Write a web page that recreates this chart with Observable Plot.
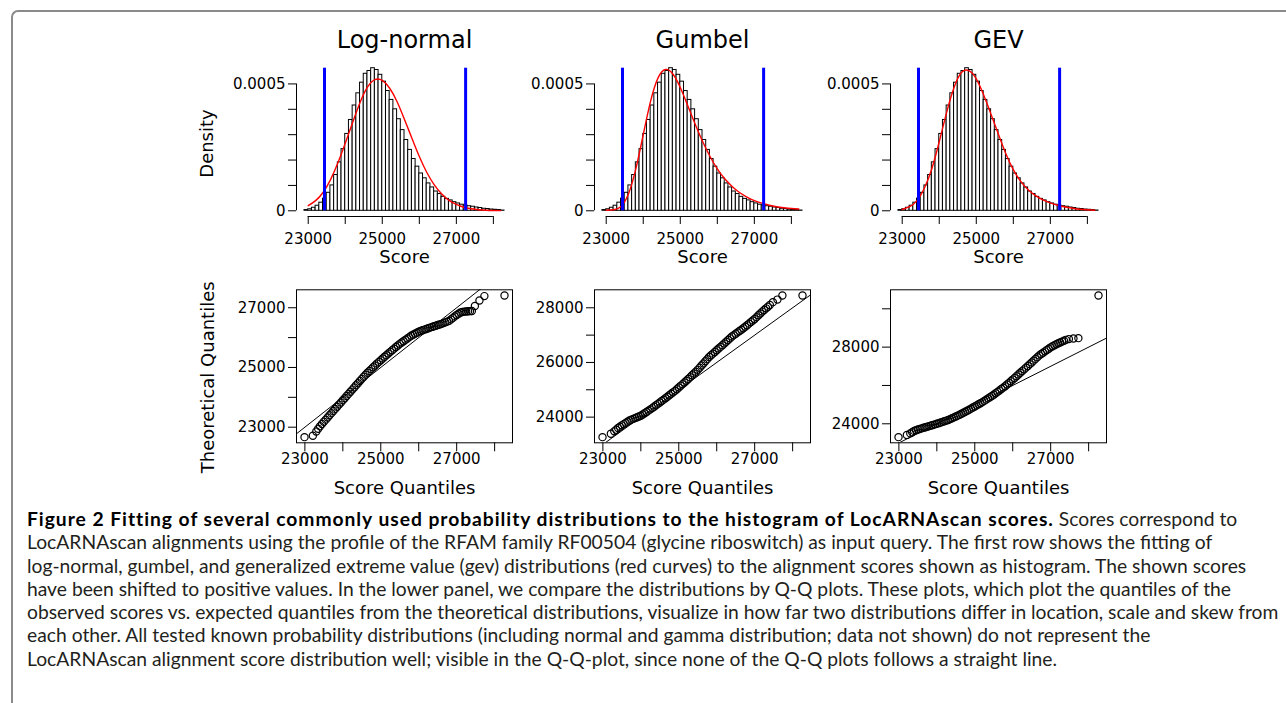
<!DOCTYPE html>
<html>
<head>
<meta charset="utf-8">
<script src="https://cdn.jsdelivr.net/npm/d3@7"></script>
<script src="https://cdn.jsdelivr.net/npm/@observablehq/plot@0.6"></script>
<style>
  body { margin: 0; background: #fff; }
  #wrap { position: relative; width: 1286px; height: 703px; overflow: hidden; background: #fff; }
  .panel { position: absolute; }
  #border { position: absolute; left: 11px; top: 10px; width: 1400px; height: 800px;
            border-left: 2px solid #8a8a8a; border-top: 2px solid #8a8a8a; border-top-left-radius: 7px; }
  #caption { position: absolute; left: 27px; top: 507px; font-family: Lato, "Open Sans", sans-serif;
             color: #231f20; line-height: 23.3px; white-space: nowrap; font-size: 17px; }
  #caption b { color: #000; }
</style>
</head>
<body>
<div id="wrap"><div id="border"></div><div id="caption"></div></div>
<script>
// ---------- data ----------
const panelTitles = ["Log-normal", "Gumbel", "GEV"];

// histogram of scores (bin start, width 100) and density
const binStart = [22900, 23000, 23100, 23200, 23300, 23400, 23500, 23600, 23700, 23800,
  23900, 24000, 24100, 24200, 24300, 24400, 24500, 24600, 24700, 24800,
  24900, 25000, 25100, 25200, 25300, 25400, 25500, 25600, 25700, 25800,
  25900, 26000, 26100, 26200, 26300, 26400, 26500, 26600, 26700, 26800,
  26900, 27000, 27100, 27200, 27300, 27400, 27500, 27600, 27700, 27800,
  27900, 28000, 28100, 28200];
const binWidth = 100;
const histDensity = [0.000003, 0.000006, 0.000012, 0.000020, 0.000032, 0.000048, 0.000071, 0.000100, 0.000141, 0.000191,
  0.000243, 0.000303, 0.000358, 0.000415, 0.000463, 0.000505, 0.000540, 0.000551, 0.000562, 0.000555,
  0.000536, 0.000509, 0.000472, 0.000437, 0.000400, 0.000361, 0.000318, 0.000279, 0.000240, 0.000204,
  0.000174, 0.000147, 0.000128, 0.000108, 0.000092, 0.000076, 0.000066, 0.000055, 0.000047, 0.000041,
  0.000034, 0.000029, 0.000024, 0.000021, 0.000018, 0.000016, 0.000013, 0.000011, 0.000008, 0.000007,
  0.000005, 0.000004, 0.000003, 0.000001];

// blue vertical markers
const blueLines = [23440, 27250];

// fitted density curves (red)
const curveScore = [23000, 23200, 23400, 23600, 23800, 24000, 24200, 24400, 24600, 24800,
  25000, 25200, 25400, 25600, 25800, 26000, 26200, 26400, 26600, 26800,
  27000, 27200, 27400, 27600, 27800, 28000, 28200];
const logNormalDensity = [0.000020, 0.000040, 0.000072, 0.000122, 0.000188, 0.000266, 0.000348, 0.000427, 0.000487, 0.000517,
  0.000514, 0.000483, 0.000430, 0.000360, 0.000286, 0.000214, 0.000152, 0.000103, 0.000067, 0.000041,
  0.000025, 0.000014, 0.000008, 0.000004, 0.000002, 0.000001, 0.0000005];
const gumbelDensity = [0.000002, 0.000004, 0.000017, 0.000066, 0.000165, 0.000300, 0.000433, 0.000524, 0.000557, 0.000539,
  0.000486, 0.000415, 0.000342, 0.000274, 0.000215, 0.000165, 0.000126, 0.000096, 0.000072, 0.000054,
  0.000040, 0.000030, 0.000022, 0.000016, 0.000012, 0.000009, 0.000007];
const gevDensity = [0.000005, 0.000016, 0.000040, 0.000090, 0.000166, 0.000272, 0.000388, 0.000486, 0.000545, 0.000552,
  0.000520, 0.000456, 0.000380, 0.000301, 0.000225, 0.000162, 0.000116, 0.000083, 0.000060, 0.000043,
  0.000031, 0.000022, 0.000015, 0.000010, 0.000006, 0.000004, 0.000002];

// histogram axes
const histTicks = [23000, 24000, 25000, 26000, 27000, 28000];
const histTickLabels = [23000, 25000, 27000];
const densityTicks = [0, 0.0001, 0.0002, 0.0003, 0.0004, 0.0005];
const densityTickLabels = [0, 0.0005];

// Q-Q plots: observed score quantiles vs theoretical quantiles
const qqScore = [22990, 23210, 23300, 23350,
  23400, 23450, 23500, 23550, 23600, 23650, 23700, 23750, 23800, 23850,
  23900, 23950, 24000, 24050, 24100, 24150, 24200, 24250, 24300, 24350,
  24400, 24450, 24500, 24550, 24600, 24650, 24700, 24750, 24800, 24850,
  24900, 24950, 25000, 25050, 25100, 25150, 25200, 25250, 25300, 25350,
  25400, 25450, 25500, 25550, 25600, 25650, 25700, 25750, 25800, 25850,
  25900, 25950, 26000, 26050, 26100, 26150, 26200, 26250, 26300, 26350,
  26400, 26450, 26500, 26550, 26600, 26650, 26700, 26750, 26800, 26850,
  26900, 26950, 27000, 27050, 27100, 27150, 27200, 27250, 27300, 27350, 27400,
  27480, 27600, 27730, 28260];
const qqLogNormal = [22667, 22711, 22856, 22950,
  23030, 23105, 23180, 23253, 23325, 23398, 23470, 23542, 23613, 23685,
  23757, 23828, 23900, 23972, 24043, 24115, 24187, 24258, 24330, 24402,
  24473, 24545, 24617, 24688, 24760, 24822, 24883, 24945, 25007, 25068,
  25130, 25187, 25243, 25300, 25357, 25413, 25470, 25523, 25577, 25630,
  25683, 25737, 25790, 25835, 25880, 25925, 25970, 26015, 26060, 26095,
  26130, 26165, 26200, 26223, 26245, 26268, 26290, 26313, 26335, 26358,
  26380, 26400, 26420, 26440, 26460, 26485, 26510, 26535, 26560, 26610,
  26660, 26710, 26760, 26800, 26840, 26855, 26870, 26875, 26880, 26885, 26890,
  27056, 27244, 27389, 27411];
const qqGumbel = [23268, 23390, 23480, 23540,
  23600, 23650, 23700, 23745, 23790, 23835, 23880, 23908, 23937, 23965,
  23993, 24022, 24050, 24097, 24143, 24190, 24237, 24283, 24330, 24382,
  24433, 24485, 24537, 24588, 24640, 24693, 24747, 24800, 24853, 24907,
  24960, 25022, 25083, 25145, 25207, 25268, 25330, 25397, 25463, 25530,
  25597, 25663, 25730, 25808, 25887, 25965, 26043, 26122, 26200, 26262,
  26323, 26385, 26447, 26508, 26570, 26633, 26697, 26760, 26823, 26887,
  26950, 27000, 27050, 27100, 27150, 27200, 27250, 27307, 27363, 27420,
  27477, 27533, 27590, 27658, 27725, 27793, 27860, 27920, 27980, 28040, 28100,
  28207, 28300, 28451, 28451];
const qqGEV = [23304, 23420, 23500, 23560,
  23630, 23665, 23700, 23730, 23760, 23790, 23820, 23850, 23880, 23910,
  23940, 23970, 24000, 24033, 24067, 24100, 24133, 24167, 24200, 24245,
  24290, 24335, 24380, 24425, 24470, 24523, 24577, 24630, 24683, 24737,
  24790, 24847, 24903, 24960, 25017, 25073, 25130, 25195, 25260, 25325,
  25390, 25455, 25520, 25593, 25667, 25740, 25813, 25887, 25960, 26047,
  26133, 26220, 26307, 26393, 26480, 26570, 26660, 26750, 26840, 26930,
  27020, 27112, 27203, 27295, 27387, 27478, 27570, 27640, 27710, 27780,
  27850, 27920, 27990, 28043, 28095, 28148, 28200, 28245, 28290, 28335, 28380,
  28420, 28450, 28470, 30696];

const qqXTicks = [23000, 24000, 25000, 26000, 27000, 28000];
const qqXTickLabels = [23000, 25000, 27000];
const qqYTicks = [
  [23000, 24000, 25000, 26000, 27000],
  [24000, 25000, 26000, 27000, 28000],
  [24000, 26000, 28000, 30000]
];
const qqYTickLabels = [
  [23000, 25000, 27000],
  [24000, 26000, 28000],
  [24000, 28000]
];

const captionBold = "Figure 2 Fitting of several commonly used probability distributions to the histogram of LocARNAscan scores.";
const captionLines = [
  " Scores correspond to",
  "LocARNAscan alignments using the profile of the RFAM family RF00504 (glycine riboswitch) as input query. The first row shows the fitting of",
  "log-normal, gumbel, and generalized extreme value (gev) distributions (red curves) to the alignment scores shown as histogram. The shown scores",
  "have been shifted to positive values. In the lower panel, we compare the distributions by Q-Q plots. These plots, which plot the quantiles of the",
  "observed scores vs. expected quantiles from the theoretical distributions, visualize in how far two distributions differ in location, scale and skew from",
  "each other. All tested known probability distributions (including normal and gamma distribution; data not shown) do not represent the",
  "LocARNAscan alignment score distribution well; visible in the Q-Q-plot, since none of the Q-Q plots follows a straight line."
];

// ---------- drawing ----------
const fitDensities = [logNormalDensity, gumbelDensity, gevDensity];
const fitQuantiles = [qqLogNormal, qqGumbel, qqGEV];
const panelLeft = [190, 488, 784];

function rPad([a, b]) { const d = (b - a) * 0.04; return [a - d, b + d]; }
const fmt = (labels) => (d) => labels.includes(d) ? String(d) : "";
const style = { fontFamily: "'DejaVu Sans', sans-serif", fontSize: "15px", color: "black", background: "transparent", overflow: "visible" };

const hist = binStart.map((s, i) => ({ x1: s, x2: s + binWidth, y: histDensity[i] }));
const histX = rPad([binStart[0], binStart[binStart.length - 1] + binWidth]);
const histY = rPad([0, d3.max(histDensity)]);

function histPanel(i) {
  const curve = curveScore.map((s, j) => ({ x: s, y: fitDensities[i][j] }));
  return Plot.plot({
    width: 330, height: 250,
    marginLeft: 106, marginRight: 8, marginTop: 42, marginBottom: 54,
    style,
    x: { domain: histX },
    y: { domain: histY },
    marks: [
      Plot.rect(hist, { x1: "x1", x2: "x2", y1: 0, y2: "y", fill: "white", stroke: "black", strokeWidth: 1 }),
      Plot.line(curve, { x: "x", y: "y", stroke: "red", strokeWidth: 1.4, curve: "natural" }),
      Plot.ruleX(blueLines, { y1: 0, y2: d3.max(histDensity), stroke: "blue", strokeWidth: 3 }),
      Plot.ruleY([histY[0]], { x1: histTicks[0], x2: histTicks[histTicks.length - 1], stroke: "black" }),
      Plot.ruleX([histX[0]], { y1: densityTicks[0], y2: densityTicks[densityTicks.length - 1], stroke: "black" }),
      Plot.axisX({ ticks: histTicks, tickFormat: fmt(histTickLabels), tickSize: 8, tickPadding: 9, fontSize: 15, label: null }),
      Plot.axisY({ ticks: densityTicks, tickFormat: fmt(densityTickLabels), tickSize: 8, tickPadding: 3, fontSize: 15, label: null }),
      Plot.text([panelTitles[i]], { text: d => d, frameAnchor: "top", lineAnchor: "middle", textAnchor: "middle", dy: -22, fontSize: 24 }),
      Plot.text(["Score"], { text: d => d, frameAnchor: "bottom", lineAnchor: "middle", textAnchor: "middle", dy: 41, fontSize: 18 }),
      i === 0 ? Plot.text(["Density"], { text: d => d, frameAnchor: "left", lineAnchor: "middle", textAnchor: "middle", dx: -89, dy: 4, rotate: -90, fontSize: 18 }) : null
    ]
  });
}

function qqPanel(i) {
  const ys = fitQuantiles[i];
  const pts = qqScore.map((s, j) => ({ x: s, y: ys[j] }));
  const xd = rPad(d3.extent(qqScore));
  const yd = rPad(d3.extent(ys));
  return Plot.plot({
    width: 330, height: 230,
    marginLeft: 106, marginRight: 8, marginTop: 19.3, marginBottom: 57.7,
    style,
    x: { domain: xd },
    y: { domain: yd },
    marks: [
      Plot.line(xd.map(v => ({ x: v, y: v })), { x: "x", y: "y", stroke: "black", strokeWidth: 1, clip: true }),
      Plot.dot(pts, { x: "x", y: "y", r: 3.6, stroke: "black", strokeWidth: 1.2, fill: "none" }),
      Plot.frame({ stroke: "black", strokeWidth: 1 }),
      Plot.axisX({ ticks: qqXTicks, tickFormat: fmt(qqXTickLabels), tickSize: 9, tickPadding: 2, fontSize: 15, label: null }),
      Plot.axisY({ ticks: qqYTicks[i], tickFormat: fmt(qqYTickLabels[i]), tickSize: 8, tickPadding: 3, fontSize: 15, label: null }),
      Plot.text(["Score Quantiles"], { text: d => d, frameAnchor: "bottom", lineAnchor: "middle", textAnchor: "middle", dy: 45.7, fontSize: 18 }),
      i === 0 ? Plot.text(["Theoretical Quantiles"], { text: d => d, frameAnchor: "left", lineAnchor: "middle", textAnchor: "middle", dx: -88, dy: 11, rotate: -90, fontSize: 18 }) : null
    ]
  });
}

const wrap = document.getElementById("wrap");
for (let i = 0; i < 3; i++) {
  const h = document.createElement("div");
  h.className = "panel"; h.style.left = panelLeft[i] + "px"; h.style.top = "20px";
  h.appendChild(histPanel(i));
  wrap.appendChild(h);
  const q = document.createElement("div");
  q.className = "panel"; q.style.left = panelLeft[i] + "px"; q.style.top = "270px";
  q.appendChild(qqPanel(i));
  wrap.appendChild(q);
}

// caption
const cap = document.getElementById("caption");
let firstLine = null, boldEl = null;
captionLines.forEach((line, k) => {
  const div = document.createElement("div");
  const span = document.createElement("span");
  if (k === 0) {
    boldEl = document.createElement("b");
    boldEl.textContent = captionBold;
    span.appendChild(boldEl);
    firstLine = span;
  }
  span.appendChild(document.createTextNode(line));
  div.appendChild(span);
  cap.appendChild(div);
});
// fit caption width to the reference line width
const refSpan = cap.children[4].firstChild;
const w = refSpan.getBoundingClientRect().width;
cap.style.fontSize = (17 * 1252 / w) + "px";
// stretch the bold lead-in so the first line ends where the reference's does
const lw = firstLine.getBoundingClientRect().width;
boldEl.style.letterSpacing = ((1210 - lw) / captionBold.length) + "px";
</script>
</body>
</html>
